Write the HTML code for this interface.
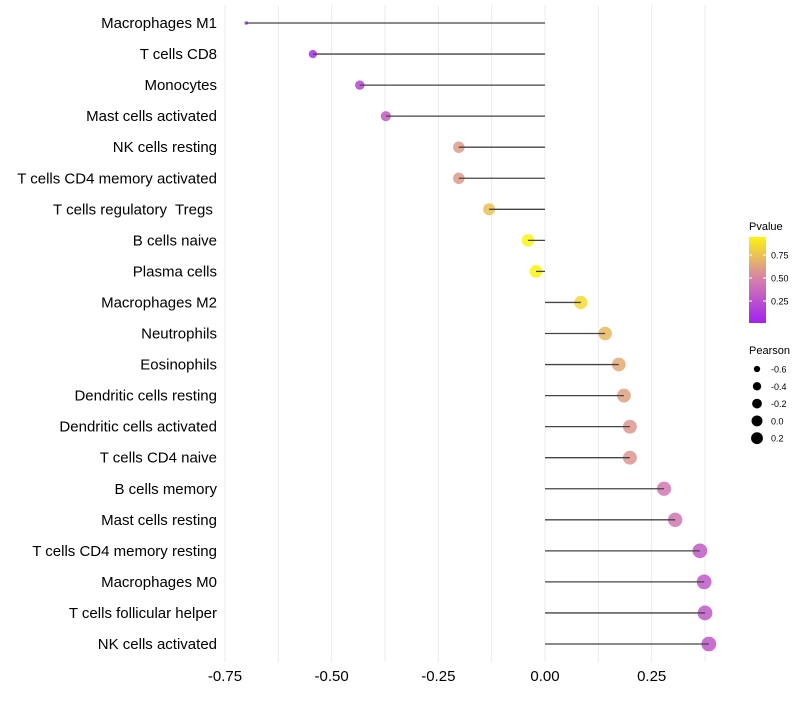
<!DOCTYPE html>
<html><head><meta charset="utf-8"><style>
body{margin:0;background:#fff;font-family:"Liberation Sans",sans-serif}
text{white-space:pre}
</style></head><body>
<svg id="chart" width="800" height="700" xmlns="http://www.w3.org/2000/svg"></svg>
<script>
const categories=["Macrophages M1","T cells CD8","Monocytes","Mast cells activated","NK cells resting","T cells CD4 memory activated","T cells regulatory  Tregs ","B cells naive","Plasma cells","Macrophages M2","Neutrophils","Eosinophils","Dendritic cells resting","Dendritic cells activated","T cells CD4 naive","B cells memory","Mast cells resting","T cells CD4 memory resting","Macrophages M0","T cells follicular helper","NK cells activated"];
const pearson=[-0.70,-0.544,-0.434,-0.373,-0.202,-0.202,-0.131,-0.040,-0.021,0.084,0.141,0.173,0.185,0.199,0.199,0.279,0.305,0.363,0.373,0.375,0.384];
const pvalues=[0.01,0.08,0.2,0.3,0.6,0.6,0.75,0.95,0.95,0.85,0.72,0.66,0.62,0.58,0.58,0.45,0.44,0.3,0.29,0.29,0.28];
const xTicks=[-0.75,-0.5,-0.25,0,0.25];
const xTickLabels=["-0.75","-0.50","-0.25","0.00","0.25"];
const pTicks=[0.25,0.5,0.75];
const sizeBreaks=[-0.6,-0.4,-0.2,0.0,0.2];

const NS="http://www.w3.org/2000/svg";
const svg=document.getElementById('chart');
function el(t,a,p){const e=document.createElementNS(NS,t);for(const k in a)e.setAttribute(k,a[k]);(p||svg).appendChild(e);return e;}
const x=v=>545+v*426.7;
const y=i=>23+i*31.05;
const r=v=>1.8+5.6*Math.pow(Math.max(0,(v+0.7)/1.08),0.45);
function col(p){
  const stops=[[0,[160,32,240]],[0.5,[214,130,170]],[1,[255,255,0]]];
  p=Math.max(0,Math.min(1,p));
  let a=stops[0],b=stops[1];if(p>0.5){a=stops[1];b=stops[2];}
  const t=(p-a[0])/(b[0]-a[0]);
  return 'rgb('+a[1].map((c,i)=>Math.round(c+(b[1][i]-c)*t)).join(',')+')';
}
for(let v=-0.75;v<=0.376;v+=0.125){
  const g=el('line',{x1:x(v),x2:x(v),y1:5,y2:662,stroke:'#ebebeb','stroke-width':1});
  
  
}
xTicks.forEach((v,i)=>{
  const t=el('text',{x:x(v),y:681,'text-anchor':'middle','font-size':15,fill:'#000'});
  t.textContent=xTickLabels[i];
  
  
});
categories.forEach((c,i)=>{
  const t=el('text',{x:217,y:y(i)+5,'text-anchor':'end','font-size':15,fill:'#000'});
  t.textContent=c;
  
  
  const pt=el('circle',{cx:x(pearson[i]),cy:y(i),r:r(pearson[i]),fill:col(pvalues[i]),'fill-opacity':0.85});
  
  
  const ln=el('line',{x1:x(0),x2:x(pearson[i]),y1:y(i),y2:y(i),stroke:'#444','stroke-width':1.3});
  
  
});
const lg=el('g',{});


const tt=el('text',{x:749,y:230,'font-size':11},lg);tt.textContent='Pvalue';
const defs=el('defs',{});
const grad=el('linearGradient',{id:'pg',x1:0,y1:1,x2:0,y2:0},defs);
[0,0.25,0.5,0.75,1].forEach(o=>el('stop',{offset:o,'stop-color':col(0.01+o*0.94)},grad));
el('rect',{x:749,y:237,width:17,height:86,fill:'url(#pg)'},lg);
const py=p=>324-p*92;
pTicks.forEach(p=>{
  el('line',{x1:749,x2:752,y1:py(p),y2:py(p),stroke:'#fff'},lg);
  el('line',{x1:763,x2:766,y1:py(p),y2:py(p),stroke:'#fff'},lg);
  const t=el('text',{x:771,y:py(p)+3.5,'font-size':9},lg);t.textContent=p.toFixed(2);
});
const sg=el('g',{});


const st=el('text',{x:749,y:354,'font-size':11},sg);st.textContent='Pearson';
sizeBreaks.forEach((s,i)=>{
  const cy=369+i*17.3;
  el('circle',{cx:757,cy:cy,r:r(s)*0.85,fill:'#000'},sg);
  const t=el('text',{x:771,y:cy+3.5,'font-size':9},sg);t.textContent=s.toFixed(1);
});
</script>
</body></html>
